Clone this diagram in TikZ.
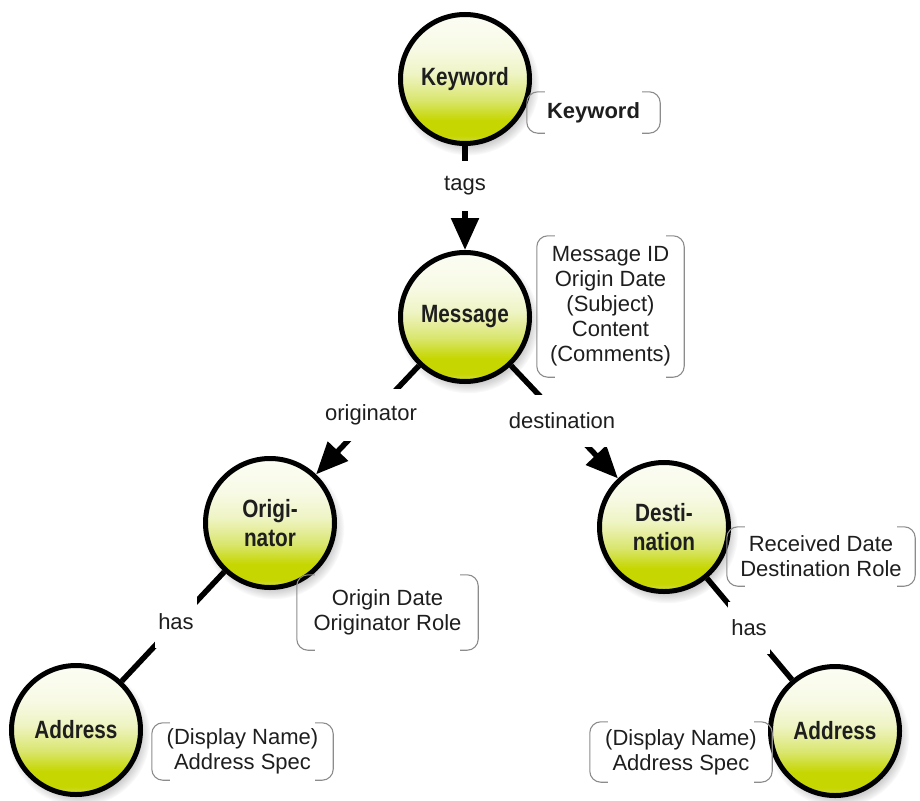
\documentclass[tikz,border=0pt]{standalone}
\usepackage{fontspec}
\setmainfont{Liberation Sans}
\newfontfamily\circfont[FakeStretch=0.83]{Liberation Sans}
\usetikzlibrary{arrows.meta,shadows}

\definecolor{ballA}{HTML}{D2DE55}
\definecolor{ballB}{HTML}{C6D600}
\definecolor{ballC}{HTML}{DAE670}
\definecolor{ballD}{HTML}{EFF4C4}
\definecolor{ballE}{HTML}{F8FAE6}
\definecolor{ballF}{HTML}{FCFDF4}
\definecolor{bracketgray}{HTML}{8C8C8C}
\definecolor{inkdark}{HTML}{1E1E1E}

% yellow-green ball: pale on top, saturated towards the bottom
\pgfdeclareverticalshading{ballshade}{100bp}{%
  color(0bp)=(ballA); color(25bp)=(ballA); color(28bp)=(ballB);
  color(34bp)=(ballB); color(42bp)=(ballC); color(52bp)=(ballD);
  color(62bp)=(ballE); color(75bp)=(ballF); color(100bp)=(ballF)}

\begin{document}
\begin{tikzpicture}[x=1pt,y=-1pt,
  ball/.style={circle, draw=black, line width=5pt, minimum size=129pt,
    inner sep=0pt, shade, shading=ballshade,
    circular drop shadow={shadow xshift=3pt, shadow yshift=-5pt, opacity=0.4},
    align=center, text=inkdark,
    font=\circfont\bfseries\fontsize{25}{29}\selectfont},
  attr/.style={inner sep=0pt, align=center, text=inkdark,
    font=\fontsize{22}{25}\selectfont},
  bracket/.style={draw=bracketgray, line width=1.1pt, rounded corners=11pt},
  conn/.style={draw=black, line width=5.5pt},
  tip/.style={-{Triangle[length=32pt,width=27pt]}},
  lbl/.style={fill=white, inner xsep=3pt, minimum height=52pt, text=inkdark,
    font=\fontsize{22}{25}\selectfont}]

\useasboundingbox (0,0) rectangle (920,800);

% entities
\node[ball] (kw)   at (465,79)  {Keyword};
\node[ball] (msg)  at (465,317) {Message};
\node[ball] (orig) at (270,523) {Origi-\\nator};
\node[ball] (dest) at (664,527) {Desti-\\nation};
\node[ball] (adl)  at (76,730)  {Address};
\node[ball] (adr)  at (835,731) {Address};

% attribute lists
\node[attr, minimum width=133pt, minimum height=41pt] (kwa) at (593.5,112.5)
  {\bfseries Keyword};
\node[attr, minimum width=147pt, minimum height=141pt] (msga) at (610.5,306.5)
  {Message ID\\Origin Date\\(Subject)\\Content\\(Comments)};
\node[attr, minimum width=181pt, minimum height=75pt] (ora) at (387.5,612.5)
  {Origin Date\\Originator Role};
\node[attr, minimum width=188pt, minimum height=59pt] (dsa) at (821,556.5)
  {Received Date\\Destination Role};
\node[attr, minimum width=181pt, minimum height=57pt] (adla) at (242.5,751.5)
  {(Display Name)\\Address Spec};
\node[attr, minimum width=182pt, minimum height=60pt] (adra) at (681,752)
  {(Display Name)\\Address Spec};

\foreach \n in {kwa,msga,ora,dsa,adla,adra}{
  \draw[bracket] ([xshift=18pt]\n.north west) -- (\n.north west)
    -- (\n.south west) -- ([xshift=18pt]\n.south west);
  \draw[bracket] ([xshift=-18pt]\n.north east) -- (\n.north east)
    -- (\n.south east) -- ([xshift=-18pt]\n.south east);
}

% relationships
\draw[conn, tip] (kw) -- (msg);
\draw[conn, tip] (msg) -- (orig);
\draw[conn, tip] (msg) -- (dest);
\draw[conn] (orig) -- (adl);
\draw[conn] (dest) -- (adr);

% relationship names
\node[lbl, minimum height=50pt] (ltags) at (465,186) {tags};
\node[lbl] (lorig) at (371,415) {originator};
\node[lbl] (ldest) at (562,421) {destination};
\node[lbl] (lhasl) at (176,622) {has};
\node[lbl] (lhasr) at (749,628) {has};
\end{tikzpicture}
\end{document}
